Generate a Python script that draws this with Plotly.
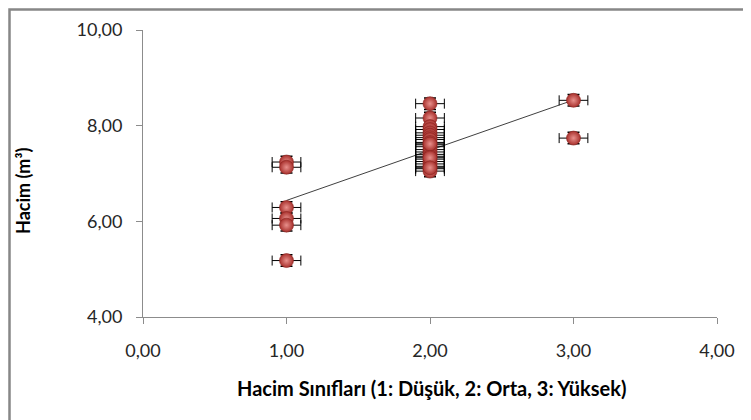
import numpy as np
import plotly.graph_objects as go

# Data
class_low = [1, 1, 1, 1, 1, 1]
vol_low = [7.24, 7.13, 6.29, 6.06, 5.92, 5.18]
class_mid = [2] * 24
vol_mid = [8.46, 8.16, 7.98, 7.92, 7.85, 7.80, 7.75, 7.71, 7.65, 7.60, 7.56,
           7.50, 7.45, 7.40, 7.36, 7.30, 7.25, 7.20, 7.15, 7.10, 7.05,
           7.62, 7.33, 7.12]
class_high = [3, 3]
vol_high = [8.53, 7.74]

x_err = 0.1
y_err = 0.12

x_ticks = [0, 1, 2, 3, 4]
x_tick_labels = ["0,00", "1,00", "2,00", "3,00", "4,00"]
y_ticks = [4, 6, 8, 10]
y_tick_labels = ["4,00", "6,00", "8,00", "10,00"]

xs = np.array(class_low + class_mid + class_high, dtype=float)
ys = np.array(vol_low + vol_mid + vol_high, dtype=float)

slope, intercept = np.polyfit(xs, ys, 1)
trend_x = np.array([xs.min(), xs.max()])
trend_y = slope * trend_x + intercept

fig = go.Figure()

fig.add_trace(go.Scatter(
    x=trend_x, y=trend_y, mode="lines",
    line=dict(color="#404040", width=1), showlegend=False, hoverinfo="skip"))

fig.add_trace(go.Scatter(
    x=xs, y=ys, mode="markers",
    marker=dict(size=14, color="#A8302C",
                gradient=dict(type="radial", color="#E8908C"),
                line=dict(color="#8A2420", width=0.6)),
    error_x=dict(type="constant", value=x_err, color="#000000", thickness=1, width=5),
    error_y=dict(type="constant", value=y_err, color="#000000", thickness=1.5, width=6),
    showlegend=False))

font_family = "Lato, 'Open Sans', sans-serif"

# page body adds an 8px offset; plot area target on screen: x 143..717, y 30..317
L, T = 135, 22
PW, PH = 574, 287

def px_x(sx):
    return (sx - 8 - L) / PW

def px_y(sy):
    return (T + PH - (sy - 8)) / PH

fig.update_layout(
    width=751, height=420,
    margin=dict(l=L, r=751 - L - PW, t=T, b=420 - T - PH),
    paper_bgcolor="white", plot_bgcolor="white",
    font=dict(family=font_family, color="#262626"),
    xaxis=dict(range=[0, 4], tickvals=x_ticks, ticktext=x_tick_labels,
               showgrid=False, zeroline=False, showline=True,
               linecolor="#8c8c8c", linewidth=1, ticks="outside", ticklen=6,
               tickcolor="#8c8c8c", tickfont=dict(size=18, color="#262626"),
               ticklabelstandoff=11, automargin=False),
    yaxis=dict(range=[4, 10], tickvals=y_ticks, ticktext=y_tick_labels,
               showgrid=False, zeroline=False, showline=True,
               linecolor="#8c8c8c", linewidth=1, ticks="outside", ticklen=6,
               tickcolor="#8c8c8c", tickfont=dict(size=18, color="#262626"),
               ticklabelstandoff=10, automargin=False),
    shapes=[dict(type="rect", xref="paper", yref="paper",
                 x0=px_x(9.5), x1=px_x(800),
                 y0=px_y(480), y1=px_y(9.5),
                 line=dict(color="#878787", width=2.5), layer="below")],
    annotations=[
        dict(text="<b>Hacim Sınıfları (1: Düşük, 2: Orta, 3: Yüksek)</b>",
             xref="paper", yref="paper", x=px_x(431), y=px_y(388),
             showarrow=False, xanchor="center", yanchor="middle",
             font=dict(size=20, color="#000000")),
        dict(text="<b>Hacim (m³)</b>", textangle=-90,
             xref="paper", yref="paper", x=px_x(23), y=px_y(191),
             showarrow=False, xanchor="center", yanchor="middle",
             font=dict(size=18, color="#000000")),
    ],
)

fig.write_html("out.html")
